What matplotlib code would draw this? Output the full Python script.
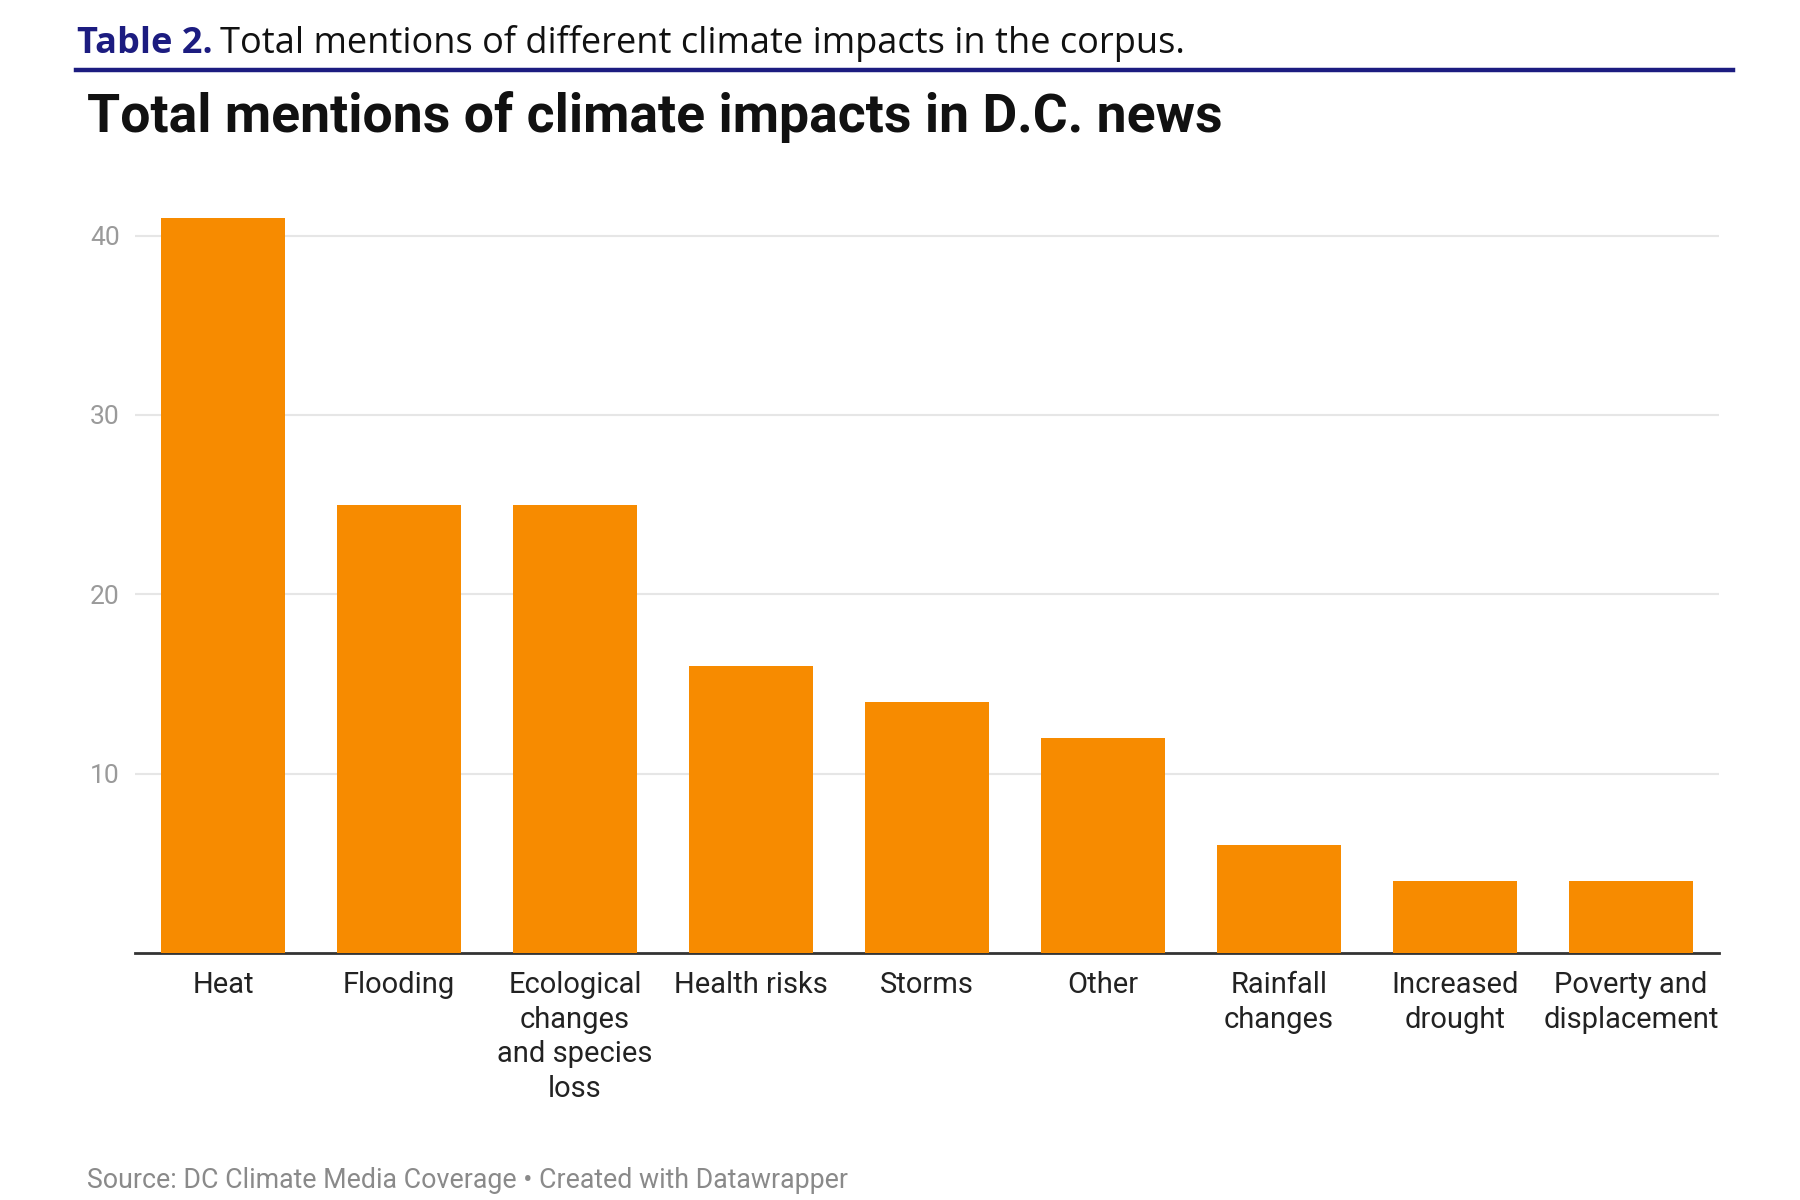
import matplotlib
matplotlib.use("Agg")
from matplotlib import pyplot as plt
import numpy as np

categories = ["Heat", "Flooding", "Ecological\nchanges\nand species\nloss", "Health risks",
              "Storms", "Other", "Rainfall\nchanges", "Increased\ndrought", "Poverty and\ndisplacement"]
mentions = [41, 25, 25, 16, 14, 12, 6, 4, 4]
yticks = [10, 20, 30, 40]

BAR = "#f78b00"
NAVY = "#1c1c80"

plt.rcParams["font.family"] = ["Roboto", "DejaVu Sans"]

fig = plt.figure(figsize=(18, 12), dpi=100)
fig.patch.set_facecolor("white")

# journal caption line
cap_y = 1 - 44 / 1200
t1 = fig.text(77 / 1800, cap_y, "Table 2.", fontsize=26, fontweight="bold", color=NAVY,
              family=["Open Sans", "DejaVu Sans"], va="center", ha="left")
fig.canvas.draw()
bb = t1.get_window_extent()
fig.text(bb.x1 / 1800 + 0.004, cap_y, "Total mentions of different climate impacts in the corpus.",
         fontsize=26, color="#111111", family=["Open Sans", "DejaVu Sans"], va="center", ha="left")
fig.add_artist(plt.Line2D([76 / 1800, 1733 / 1800], [1 - 70 / 1200] * 2, color=NAVY, lw=3.2,
                          transform=fig.transFigure))

# chart title
fig.text(87 / 1800, 1 - 117 / 1200, "Total mentions of climate impacts in D.C. news",
         fontsize=38.5, fontweight="bold", color="#111111", va="center", ha="left")

ax = fig.add_axes([135 / 1800, 0.2058, (1719 - 135) / 1800, 0.6278])
x = np.arange(len(categories))
ax.bar(x, mentions, width=0.7, color=BAR, zorder=3)
ax.set_xlim(-0.5, len(categories) - 0.5)
ax.set_ylim(0, 42)
ax.set_yticks(yticks)
ax.set_yticklabels([str(v) for v in yticks])
ax.grid(axis="y", color="#e6e6e6", lw=1.5, zorder=0)
ax.set_xticks(x)
ax.set_xticklabels(categories, fontsize=21, color="#222222", linespacing=1.3, va="top")
for s in ["top", "right", "left"]:
    ax.spines[s].set_visible(False)
ax.spines["bottom"].set_color("#333333")
ax.spines["bottom"].set_linewidth(2)
ax.tick_params(axis="x", length=0, pad=13)
ax.tick_params(axis="y", length=0, pad=11, labelsize=19, labelcolor="#9a9a9a")

fig.text(87 / 1800, 1 - 1180 / 1200, "Source: DC Climate Media Coverage \u2022 Created with Datawrapper",
         fontsize=19.3, color="#8a8a8a", va="center", ha="left")

fig.savefig("out.png", dpi=100, facecolor="white")
